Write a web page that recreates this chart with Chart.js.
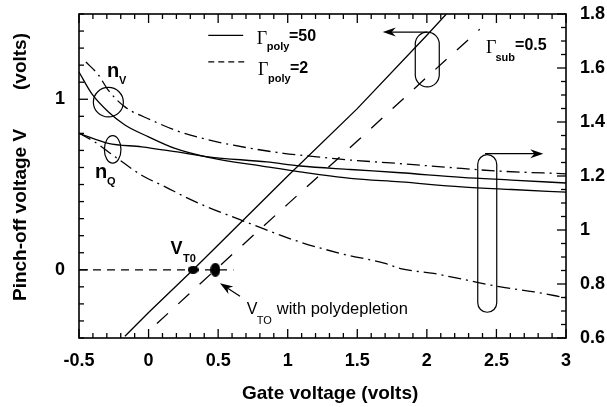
<!DOCTYPE html>
<html>
<head>
<meta charset="utf-8">
<script src="https://cdn.jsdelivr.net/npm/chart.js@4.4.1/dist/chart.umd.min.js"></script>
<style>
  html, body { margin: 0; padding: 0; background: #fff; }
  #wrap { width: 607px; height: 407px; }
</style>
</head>
<body>
<div id="wrap"><canvas id="c" width="607" height="407"></canvas></div>
<script>
// Pinch-off voltage (left axis, volts) versus gate voltage
const gatePinchPoly50 = [-0.17, 0, 0.32, 0.5, 1.0, 1.5, 2.0, 2.14];
const pinchPoly50     = [-0.39, -0.25, 0, 0.145, 0.55, 0.945, 1.375, 1.5];
const gatePinchPoly2  = [0.06, 0.48, 1.0, 1.5, 2.0, 2.38];
const pinchPoly2      = [-0.315, 0, 0.385, 0.755, 1.13, 1.41];

// Threshold voltages (pinch-off = 0)
const thresholdGate   = [0.32, 0.48];   // V_T0, V_T0 with polydepletion
const thresholdPinch  = [0, 0];
const zeroLineGate    = [-0.5, 0.61];
const zeroLinePinch   = [0, 0];

// Slope factors (right axis)
const gateNvPoly50 = [-0.5, -0.41, -0.29, -0.17, 0, 0.19, 0.43, 0.85, 1.09, 1.45, 1.81, 2.25, 2.61, 3.0];
const nvPoly50     = [1.585, 1.506, 1.438, 1.389, 1.345, 1.302, 1.269, 1.234, 1.215, 1.191, 1.178, 1.160, 1.150, 1.140];
const gateNvPoly2  = [-0.45, -0.36, -0.29, -0.17, 0.02, 0.19, 0.36, 0.61, 0.97, 1.21, 1.45, 1.78, 2.25, 2.49, 3.0];
const nvPoly2      = [1.622, 1.574, 1.518, 1.456, 1.407, 1.370, 1.343, 1.314, 1.284, 1.271, 1.259, 1.247, 1.228, 1.219, 1.208];
const gateNqPoly50 = [-0.5, -0.29, -0.05, 0.19, 0.43, 0.85, 1.09, 1.45, 1.81, 2.25, 2.61, 3.0];
const nqPoly50     = [1.358, 1.321, 1.308, 1.290, 1.271, 1.252, 1.237, 1.224, 1.212, 1.195, 1.185, 1.174];
const gateNqPoly2  = [-0.5, -0.39, -0.24, -0.05, 0.12, 0.26, 0.42, 0.73, 1.05, 1.38, 1.7, 1.81, 2.05, 2.29, 2.53, 2.77, 3.0];
const nqPoly2      = [1.358, 1.327, 1.271, 1.203, 1.160, 1.123, 1.086, 1.024, 0.962, 0.913, 0.876, 0.857, 0.839, 0.814, 0.789, 0.771, 0.749];

// Tick labels
const leftTickValues  = [0, 1];

const SANS = 'Liberation Sans, Arial, Helvetica, sans-serif';
const SERIF = 'Liberation Serif, Times New Roman, serif';
const pts = (xs, ys) => xs.map((x, i) => ({ x, y: ys[i] }));
const DASH_LONG = [15, 14];
const DASH_DOT = [13, 5, 2, 5];
const fmt = v => String(+Number(v).toFixed(2));

function dotImage(w, h) {
  const cv = document.createElement('canvas');
  cv.width = w; cv.height = h;
  const g = cv.getContext('2d');
  g.fillStyle = '#000';
  g.beginPath();
  g.ellipse(w / 2, h / 2, w / 2, h / 2, 0, 0, Math.PI * 2);
  g.fill();
  return cv;
}

// keep the plot frame fixed: no extra padding for half-height labels
function noScalePadding(s) {
  s.paddingTop = 0; s.paddingBottom = 0; s.paddingLeft = 0; s.paddingRight = 0;
}

const figureMarks = {
  id: 'figureMarks',
  afterDraw(chart) {
    const { ctx, chartArea: a, scales } = chart;
    const X = v => scales.x.getPixelForValue(v);
    const Y = v => scales.y.getPixelForValue(v);
    const R = v => scales.y2.getPixelForValue(v);
    ctx.save();
    ctx.strokeStyle = '#000';
    ctx.fillStyle = '#000';
    ctx.lineCap = 'butt';

    const line = (x1, y1, x2, y2) => { ctx.beginPath(); ctx.moveTo(x1, y1); ctx.lineTo(x2, y2); ctx.stroke(); };

    // frame
    ctx.lineWidth = 1.6;
    ctx.strokeRect(a.left, a.top, a.right - a.left, a.bottom - a.top);

    // inward tick marks
    ctx.lineWidth = 1.3;
    for (let i = 0; i <= 35; i++) {
      const p = X(-0.5 + i * 0.1);
      const len = i % 5 === 0 ? 9 : 5;
      line(p, a.bottom, p, a.bottom - len);
      line(p, a.top, p, a.top + len);
    }
    for (let i = 0; i <= 19; i++) {
      const p = Y(-0.4 + i * 0.1);
      const len = (i === 4 || i === 14) ? 9 : 5;
      line(a.left, p, a.left + len, p);
    }
    for (let i = 0; i <= 24; i++) {
      const p = R(0.6 + i * 0.05);
      const len = i % 4 === 0 ? 9 : 5;
      line(a.right, p, a.right - len, p);
    }

    const text = (s, x, y, font, align) => {
      ctx.font = font;
      ctx.textAlign = align || 'left';
      ctx.textBaseline = 'alphabetic';
      ctx.fillText(s, x, y);
    };
    const arrowHead = (tx, ty, ang) => {
      const L = 13, H = 4.5, N = 9;
      const c = Math.cos(ang), s = Math.sin(ang);
      const P = (u, v) => [tx - u * c - v * s, ty - u * s + v * c];
      ctx.beginPath();
      ctx.moveTo(tx, ty);
      ctx.lineTo(...P(L, H));
      ctx.lineTo(...P(N, 0));
      ctx.lineTo(...P(L, -H));
      ctx.closePath();
      ctx.fill();
    };
    const pill = (cx, top, bottom, r) => {
      ctx.beginPath();
      ctx.arc(cx, top + r, r, Math.PI, 0);
      ctx.lineTo(cx + r, bottom - r);
      ctx.arc(cx, bottom - r, r, 0, Math.PI);
      ctx.closePath();
      ctx.stroke();
    };

    // legend
    ctx.lineWidth = 1.3;
    line(X(0.429), Y(1.375), X(0.68), Y(1.375));
    ctx.setLineDash([6, 4]);
    line(X(0.429), Y(1.219), X(0.705), Y(1.219));
    ctx.setLineDash([]);
    text('\u0393', X(0.777), Y(1.327), '18px ' + SERIF);
    text('poly', X(0.849), Y(1.288), 'bold 11px ' + SANS);
    text('=50', X(1.009), Y(1.343), 'bold 16px ' + SANS);
    text('\u0393', X(0.786), Y(1.142), '18px ' + SERIF);
    text('poly', X(0.858), Y(1.104), 'bold 11px ' + SANS);
    text('=2', X(1.016), Y(1.153), 'bold 16px ' + SANS);

    text('\u0393', X(2.425), Y(1.27), '18px ' + SERIF);
    text('sub', X(2.493), Y(1.227), 'bold 11px ' + SANS);
    text('=0.5', X(2.634), Y(1.288), 'bold 16px ' + SANS);

    // curve labels
    text('n', X(-0.299), Y(1.132), 'bold 20px ' + SANS);
    text('V', X(-0.213), Y(1.088), 'bold 11px ' + SANS);
    text('n', X(-0.385), Y(0.539), 'bold 20px ' + SANS);
    text('Q', X(-0.299), Y(0.5), 'bold 11px ' + SANS);
    text('V', X(0.158), Y(0.092), 'bold 18px ' + SANS);
    text('T0', X(0.247), Y(0.043), 'bold 11px ' + SANS);
    text('V', X(0.705), Y(-0.259), '16px ' + SANS);
    text('TO', X(0.777), Y(-0.317), '11px ' + SANS);
    text('with polydepletion', X(0.921), Y(-0.259), '16.5px ' + SANS);

    // circles round the n curves
    ctx.lineWidth = 1.2;
    ctx.beginPath();
    ctx.ellipse(X(-0.289), Y(0.983), 15, 14.7, 0, 0, Math.PI * 2);
    ctx.stroke();
    ctx.beginPath();
    ctx.ellipse(X(-0.258), Y(0.706), 8.3, 13.7, 0, 0, Math.PI * 2);
    ctx.stroke();

    // group markers with arrows to their axis
    pill(X(2.003), Y(1.394), Y(1.073), 12);
    line(X(2.003), Y(1.394), X(1.683) + 6, Y(1.394));
    arrowHead(X(1.683), Y(1.394), Math.PI);
    pill(X(2.434), Y(0.675), Y(-0.249), 9.5);
    line(X(2.418), Y(0.681), X(2.837) - 6, Y(0.681));
    arrowHead(X(2.837), Y(0.681), 0);

    // arrow to polydepletion threshold
    const tx = X(0.513), ty = Y(-0.079), fx = X(0.657), fy = Y(-0.155);
    const ang = Math.atan2(ty - fy, tx - fx);
    line(fx, fy, tx - 6 * Math.cos(ang), ty - 6 * Math.sin(ang));
    arrowHead(tx, ty, ang);

    // axis titles
    text('Gate voltage (volts)', 242, 399, 'bold 19px ' + SANS);
    ctx.save();
    ctx.translate(25.5, 0);
    ctx.rotate(-Math.PI / 2);
    text('Pinch-off voltage V', -301, 0, 'bold 19px ' + SANS);
    text('(volts)', -90, 0, 'bold 19px ' + SANS);
    ctx.restore();

    ctx.restore();
  }
};

const tickFont = { family: SANS, size: 18, weight: 'bold' };

new Chart(document.getElementById('c'), {
  type: 'line',
  data: {
    datasets: [
      { data: pts([thresholdGate[0]], [thresholdPinch[0]]), yAxisID: 'y', showLine: false,
        pointStyle: dotImage(11, 8), pointRadius: 5 },
      { data: pts([thresholdGate[1]], [thresholdPinch[1]]), yAxisID: 'y', showLine: false,
        pointStyle: dotImage(10, 14), pointRadius: 6 },
      { data: pts(zeroLineGate, zeroLinePinch), yAxisID: 'y', borderDash: [8, 6], tension: 0 },
      { data: pts(gatePinchPoly50, pinchPoly50), yAxisID: 'y', cubicInterpolationMode: 'default', tension: 0 },
      { data: pts(gatePinchPoly2, pinchPoly2), yAxisID: 'y', borderDash: DASH_LONG, cubicInterpolationMode: 'default', tension: 0 },
      { data: pts(gateNvPoly50, nvPoly50), yAxisID: 'y2' },
      { data: pts(gateNvPoly2, nvPoly2), yAxisID: 'y2', borderDash: DASH_DOT },
      { data: pts(gateNqPoly50, nqPoly50), yAxisID: 'y2' },
      { data: pts(gateNqPoly2, nqPoly2), yAxisID: 'y2', borderDash: DASH_DOT }
    ]
  },
  options: {
    responsive: false,
    animation: false,
    devicePixelRatio: 1,
    layout: { padding: { top: 14, left: 0, right: 0, bottom: 0 } },
    plugins: { legend: { display: false }, tooltip: { enabled: false } },
    elements: {
      point: { radius: 0 },
      line: { borderWidth: 1.3, borderColor: '#000', cubicInterpolationMode: 'monotone', fill: false }
    },
    datasets: { line: { borderColor: '#000', backgroundColor: '#000' } },
    scales: {
      x: {
        type: 'linear', position: 'bottom', min: -0.5, max: 3,
        afterFit: s => { s.height = 69; noScalePadding(s); },
        grid: { display: false, drawTicks: false },
        border: { display: false },
        ticks: { stepSize: 0.5, padding: 12, color: '#000', font: tickFont, maxRotation: 0, autoSkip: false, callback: fmt }
      },
      y: {
        type: 'linear', position: 'left', min: -0.4, max: 1.5,
        afterFit: s => { s.width = 79; noScalePadding(s); },
        afterBuildTicks: s => { s.ticks = leftTickValues.map(v => ({ value: v })); },
        grid: { display: false, drawTicks: false },
        border: { display: false },
        ticks: { padding: 14, color: '#000', font: tickFont, callback: fmt }
      },
      y2: {
        type: 'linear', position: 'right', min: 0.6, max: 1.8,
        afterFit: s => { s.width = 41; noScalePadding(s); },
        grid: { display: false, drawTicks: false },
        border: { display: false },
        ticks: { stepSize: 0.2, padding: 14, color: '#000', font: tickFont, callback: fmt }
      }
    }
  },
  plugins: [figureMarks]
});
</script>
</body>
</html>
